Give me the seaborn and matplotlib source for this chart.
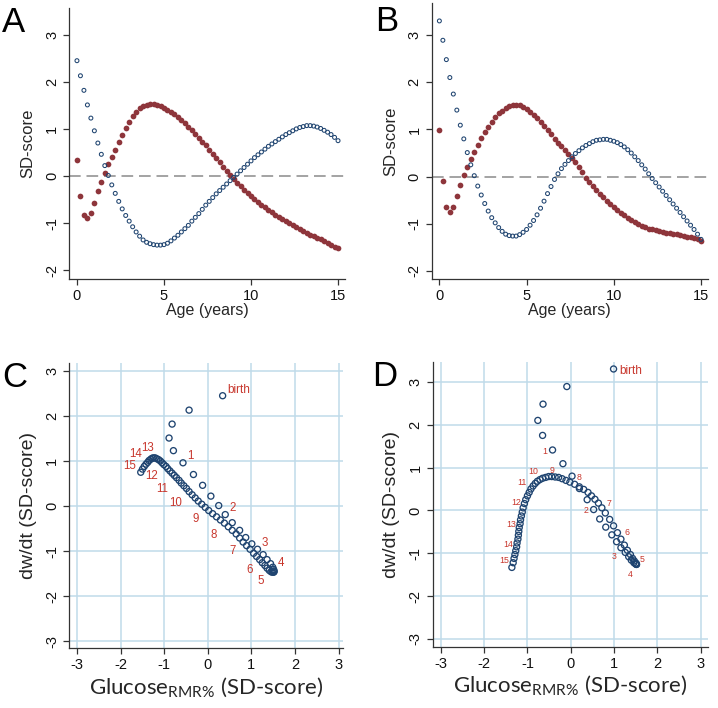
import numpy as np
import pandas as pd
import matplotlib
matplotlib.use("Agg")
import matplotlib.pyplot as plt
import seaborn as sns

# ---------------- data ----------------
age = np.round(np.arange(0, 76) * 0.2, 1)   # 0.0 ... 15.0 years, 0.2-year grid

gluc_A = [0.34, -0.43, -0.82, -0.89, -0.79, -0.57, -0.33, -0.12, 0.07, 0.25,
          0.40, 0.56, 0.73, 0.87, 1.01, 1.14, 1.27, 1.36, 1.44, 1.49,
          1.51, 1.52, 1.52, 1.51, 1.48, 1.45, 1.41, 1.36, 1.31, 1.25,
          1.19, 1.12, 1.05, 0.97, 0.89, 0.81, 0.73, 0.65, 0.56, 0.47,
          0.38, 0.29, 0.20, 0.11, 0.02, -0.06, -0.14, -0.22, -0.29, -0.36,
          -0.43, -0.49, -0.55, -0.61, -0.66, -0.72, -0.77, -0.82, -0.87, -0.92,
          -0.96, -1.01, -1.05, -1.09, -1.13, -1.17, -1.21, -1.25, -1.28, -1.31,
          -1.35, -1.38, -1.42, -1.46, -1.50, -1.54]

dwdt_A = [2.45, 2.13, 1.82, 1.51, 1.23, 0.96, 0.70, 0.46, 0.22, 0.01,
          -0.19, -0.37, -0.54, -0.70, -0.84, -0.96, -1.08, -1.19, -1.28, -1.36,
          -1.41, -1.44, -1.46, -1.47, -1.47, -1.46, -1.43, -1.38, -1.32, -1.26,
          -1.19, -1.12, -1.05, -0.96, -0.88, -0.80, -0.71, -0.62, -0.54, -0.46,
          -0.38, -0.31, -0.24, -0.17, -0.10, -0.03, 0.04, 0.11, 0.18, 0.25,
          0.32, 0.39, 0.45, 0.51, 0.57, 0.63, 0.68, 0.73, 0.78, 0.83,
          0.88, 0.92, 0.96, 1.00, 1.03, 1.05, 1.07, 1.07, 1.06, 1.04,
          1.01, 0.97, 0.93, 0.88, 0.82, 0.75]

gluc_B = [0.99, -0.09, -0.64, -0.76, -0.65, -0.42, -0.18, 0.03, 0.20, 0.38,
          0.53, 0.67, 0.81, 0.95, 1.06, 1.16, 1.26, 1.34, 1.40, 1.46,
          1.50, 1.52, 1.52, 1.51, 1.47, 1.43, 1.38, 1.31, 1.24, 1.16,
          1.08, 0.99, 0.90, 0.80, 0.72, 0.64, 0.56, 0.48, 0.40, 0.30,
          0.20, 0.09, -0.02, -0.11, -0.20, -0.28, -0.36, -0.44, -0.51, -0.58,
          -0.65, -0.71, -0.77, -0.82, -0.87, -0.92, -0.96, -1.00, -1.04, -1.07,
          -1.10, -1.12, -1.14, -1.16, -1.17, -1.19, -1.20, -1.21, -1.22, -1.24,
          -1.25, -1.27, -1.29, -1.31, -1.33, -1.36]

dwdt_B = [3.30, 2.89, 2.48, 2.10, 1.75, 1.41, 1.09, 0.80, 0.51, 0.25,
          0.02, -0.20, -0.39, -0.57, -0.73, -0.87, -0.98, -1.08, -1.16, -1.22,
          -1.25, -1.26, -1.26, -1.23, -1.18, -1.12, -1.03, -0.93, -0.81, -0.67,
          -0.52, -0.36, -0.21, -0.06, 0.06, 0.17, 0.26, 0.34, 0.42, 0.49,
          0.55, 0.61, 0.66, 0.70, 0.74, 0.77, 0.78, 0.79, 0.79, 0.77,
          0.75, 0.72, 0.68, 0.63, 0.57, 0.50, 0.42, 0.34, 0.25, 0.16,
          0.06, -0.04, -0.13, -0.22, -0.31, -0.40, -0.49, -0.58, -0.67, -0.76,
          -0.85, -0.94, -1.03, -1.12, -1.22, -1.33]

label_ages = [0, 1, 2, 3, 4, 5, 6, 7, 8, 9, 10, 11, 12, 13, 14, 15]
label_text = ["birth", "1", "2", "3", "4", "5", "6", "7", "8", "9",
              "10", "11", "12", "13", "14", "15"]

y_ticks_time = [-2, -1, 0, 1, 2, 3]
x_ticks_time = [0, 5, 10, 15]
phase_ticks = [-3, -2, -1, 0, 1, 2, 3]

# label offsets (style: where each age label sits relative to its point)
offC_x = [0.10, 0.17, 0.17, 0.16, 0.16, -0.23, -0.24, -0.23, -0.25, -0.23,
          -0.32, -0.34, -0.33, -0.21, -0.31, -0.25]
offC_y = [0.13, 0.14, 0.14, 0.13, 0.14, -0.21, -0.22, -0.19, -0.26, -0.25,
          -0.26, -0.26, -0.21, 0.24, 0.15, 0.14]
offD_x = [0.13, -0.18, -0.18, -0.16, -0.13, 0.22, 0.23, 0.24, 0.00, -0.16,
          -0.22, -0.21, -0.17, -0.18, -0.19, -0.18]
offD_y = [-0.04, -0.03, -0.02, -0.20, -0.24, -0.03, 0.01, -0.02, 0.21, 0.16,
          0.16, 0.15, 0.13, 0.07, 0.05, 0.15]

# ---------------- style ----------------
sns.set_style("ticks")
plt.rcParams['font.family'] = ['Liberation Sans', 'DejaVu Sans']
plt.rcParams['mathtext.default'] = 'regular'
plt.rcParams['axes.unicode_minus'] = False

NAVY = '#1f4470'
MAROON = '#8e353b'
LABEL_RED = '#c8372d'
GRID = '#c0dbea'
SPINE = '#333333'

fig = plt.figure(figsize=(7.18, 7.08), dpi=100)

W, H = 718.0, 708.0
def box(l, t, r, b):
    return [l / W, 1 - b / H, (r - l) / W, (b - t) / H]

axA = fig.add_axes(box(69.3, 8, 345, 279))
axB = fig.add_axes(box(431.7, 3, 708, 279))
axC = fig.add_axes(box(69.3, 363.3, 343.3, 648.3))
axD = fig.add_axes(box(432.7, 361.7, 708.3, 646.7))


def style_axes(ax, tick_fs):
    sns.despine(ax=ax)
    for s in ('left', 'bottom'):
        ax.spines[s].set_color(SPINE)
        ax.spines[s].set_linewidth(0.9)
    ax.tick_params(length=4.3, width=0.9, color=SPINE, pad=3,
                   labelsize=tick_fs, labelcolor='#111111')
    ax.tick_params(axis='y', labelrotation=90)
    for lab in ax.get_yticklabels():
        lab.set_va('center')


def time_panel(ax, gluc, dwdt, ylim):
    df = pd.DataFrame({'age': age, 'glucose': gluc, 'dwdt': dwdt})
    ax.axhline(0, color='#a3a3a3', lw=1.4, dashes=(6, 3), zorder=1)
    sns.scatterplot(data=df, x='age', y='glucose', ax=ax, marker='o', s=17,
                    color=MAROON, linewidth=0, zorder=2, legend=False)
    sns.scatterplot(data=df, x='age', y='dwdt', ax=ax, marker='o', s=8,
                    facecolors='none', edgecolor=NAVY, linewidth=0.75,
                    zorder=3, legend=False)
    ax.set_xlim(-0.44, 15.4)
    ax.set_ylim(*ylim)
    ax.set_xticks(x_ticks_time)
    ax.set_yticks(y_ticks_time)
    ax.set_xlabel('Age (years)', fontsize=11.5, labelpad=0)
    ax.set_ylabel('SD-score', fontsize=12, labelpad=7)
    style_axes(ax, 10.5)


def phase_panel(ax, gluc, dwdt, xlim, ylim, offx, offy, num_fs, birth_fs):
    df = pd.DataFrame({'glucose': gluc, 'dwdt': dwdt})
    ax.grid(True, color=GRID, lw=1.1)
    ax.set_axisbelow(True)
    sns.scatterplot(data=df, x='glucose', y='dwdt', ax=ax, marker='o', s=19,
                    facecolors='none', edgecolor=NAVY, linewidth=0.95,
                    zorder=3, legend=False)
    for k, (a, t) in enumerate(zip(label_ages, label_text)):
        i = int(round(a / 0.2))
        if t == 'birth':
            ax.text(gluc[i] + offx[k], dwdt[i] + offy[k], t, color=LABEL_RED,
                    fontsize=birth_fs, ha='left', va='center', zorder=4)
        else:
            ax.text(gluc[i] + offx[k], dwdt[i] + offy[k], t, color=LABEL_RED,
                    fontsize=num_fs, ha='center', va='center', zorder=4)
    ax.set_xlim(*xlim)
    ax.set_ylim(*ylim)
    ax.set_xticks(phase_ticks)
    ax.set_yticks(phase_ticks)
    ax.set_xlabel('Glucose$_{RMR\\%}$ (SD-score)', fontsize=16,
                  family=['Lato', 'DejaVu Sans'], labelpad=2)
    ax.set_ylabel('dw/dt (SD-score)', fontsize=14, labelpad=6)
    style_axes(ax, 10.5)


time_panel(axA, gluc_A, dwdt_A, (-2.19, 3.57))
time_panel(axB, gluc_B, dwdt_B, (-2.17, 3.68))
phase_panel(axC, gluc_A, dwdt_A, (-3.18, 3.11), (-3.16, 3.17),
            offC_x, offC_y, 8.3, 8.5)
phase_panel(axD, gluc_B, dwdt_B, (-3.19, 3.18), (-3.18, 3.47),
            offD_x, offD_y, 6.3, 8.5)

for letter, x, y in [('A', 2, 6), ('B', 375, 5), ('C', 2, 361), ('D', 372, 360)]:
    fig.text(x / W, 1 - y / H, letter, fontsize=25, ha='left', va='top',
             color='black')

fig.savefig('out.png', dpi=100)
